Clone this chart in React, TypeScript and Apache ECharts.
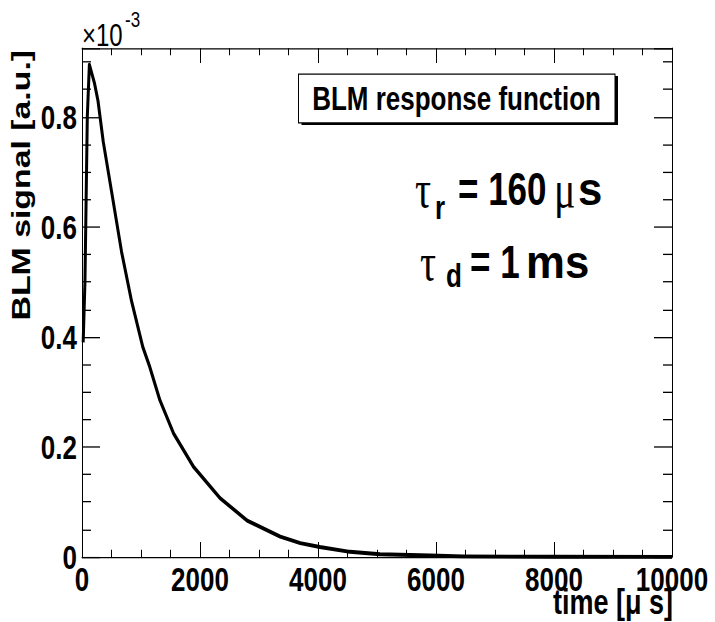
import React, { useEffect, useRef } from "react";
import * as echarts from "echarts";

// ---- data (time in microseconds, signal in units of 1e-3 a.u.) ----
const TIME_US = [20, 50, 70, 90, 125, 210, 270, 360, 500, 670, 840, 1030, 1150, 1320, 1550, 1890, 2340, 2800, 3360, 3700, 4030, 4490, 5050, 5900, 6460, 8000, 10000];
const SIGNAL = [0.39, 0.5, 0.65, 0.8, 0.895, 0.862, 0.83, 0.755, 0.665, 0.555, 0.465, 0.382, 0.345, 0.285, 0.225, 0.164, 0.107, 0.066, 0.037, 0.025, 0.018, 0.01, 0.005, 0.0025, 0.001, 0.0003, 0.0001];

const X_MIN = 0;
const X_MAX = 10000;
const X_STEP = 2000;
const Y_MIN = 0;
const Y_MAX = 0.925;
const Y_STEP = 0.2;
const Y_EXPONENT = "-3";

const X_TITLE = "time [\u03bc s]";
const Y_TITLE = "BLM signal [a.u.]";
const BOX_TITLE = "BLM response function";
const TAU = "\u03c4";
const TAU_R = { sub: "r", eq: "= 160", unit: "\u03bc", unitTail: "s" };
const TAU_D = { sub: "d", eq: "= 1", unit: "ms" };

// the reference picture is vertically stretched; draw at this height and scale
const W = 715;
const H_DRAW = 478;
const STRETCH = 622 / H_DRAW;

const SANS = "'Liberation Sans', Arial, Helvetica, sans-serif";
const SERIF = "'Liberation Serif', 'Times New Roman', serif";

export default function App() {
  const ref = useRef<HTMLDivElement>(null);
  useEffect(() => {
    const chart = echarts.init(ref.current!, null, { renderer: "svg" });
    const line = { color: "#000", width: 1 };
    const labelFont = { fontFamily: SANS, fontWeight: "bold" as const, fontSize: 26, color: "#000" };
    const xBase = {
      type: "value" as const,
      min: X_MIN,
      max: X_MAX,
      interval: X_STEP,
      axisLine: { show: true, onZero: false, lineStyle: line },
      axisTick: { show: true, inside: true, length: 11.5, lineStyle: line },
      minorTick: { show: true, splitNumber: 4, length: 5.5, lineStyle: line },
      splitLine: { show: false },
      minorSplitLine: { show: false },
    };
    const yBase = {
      type: "value" as const,
      min: Y_MIN,
      max: Y_MAX,
      interval: Y_STEP,
      axisLine: { show: true, onZero: false, lineStyle: line },
      axisTick: { show: true, inside: true, length: 18, lineStyle: line },
      minorTick: { show: true, splitNumber: 4, length: 9, lineStyle: line },
      splitLine: { show: false },
      minorSplitLine: { show: false },
    };
    const txt = (x: number, y: number, text: string, font: string, align: string, extra: any = {}) => ({
      type: "text",
      x,
      y,
      ...extra,
      style: {
        text,
        font,
        fill: "#000",
        textAlign: align,
        align,
        textVerticalAlign: "middle",
        verticalAlign: "middle",
      },
    });
    chart.setOption({
      animation: false,
      backgroundColor: "#fff",
      grid: { left: 82, right: 43, top: 37, bottom: 50, containLabel: false, show: false },
      xAxis: [
        {
          ...xBase,
          position: "bottom",
          axisLabel: { show: true, margin: 4, ...labelFont, formatter: (v: number) => String(v) },
        },
        { ...xBase, position: "top", axisLabel: { show: false } },
      ],
      yAxis: [
        {
          ...yBase,
          position: "left",
          axisLabel: {
            show: true,
            margin: 5,
            showMaxLabel: false,
            ...labelFont,
            formatter: (v: number) => String(+v.toFixed(1)),
          },
        },
        { ...yBase, position: "right", axisLabel: { show: false } },
      ],
      series: [
        {
          type: "line",
          xAxisIndex: 0,
          yAxisIndex: 0,
          data: TIME_US.map((t, i) => [t, SIGNAL[i]]),
          symbol: "none",
          showSymbol: false,
          lineStyle: { color: "#000", width: 3, join: "round" },
          clip: false,
          z: 5,
        },
      ],
      graphic: [
        // exponent of the y axis
        txt(82, 27, "\u00d710", `normal 24px ${SANS}`, "left"),
        txt(125, 15, Y_EXPONENT, `normal 17px ${SANS}`, "left"),
        // axis titles
        txt(21, 38.4, Y_TITLE, `bold 26px ${SANS}`, "right", { rotation: Math.PI / 2 }),
        txt(673, 462.8, X_TITLE, `bold 27px ${SANS}`, "right"),
        // legend box with shadow
        { type: "rect", shape: { x: 301.5, y: 58.5, width: 316.5, height: 37.5 }, style: { fill: "#000" }, z: 10 },
        {
          type: "rect",
          shape: { x: 298.5, y: 57, width: 316.5, height: 37.5 },
          style: { fill: "#fff", stroke: "#000", lineWidth: 1 },
          z: 11,
        },
        { ...txt(456.5, 75.5, BOX_TITLE, `bold 26px ${SANS}`, "center"), z: 12 },
        // tau_r line
        txt(415, 146, TAU, `40px ${SERIF}`, "left"),
        txt(435, 159.4, TAU_R.sub, `bold 26px ${SANS}`, "left"),
        txt(458, 145.3, TAU_R.eq, `bold 35px ${SANS}`, "left"),
        txt(554, 146, TAU_R.unit, `40px ${SERIF}`, "left"),
        txt(578, 145.3, TAU_R.unitTail, `bold 35px ${SANS}`, "left", { scaleX: 1.25 }),
        // tau_d line
        txt(420, 202, TAU, `40px ${SERIF}`, "left"),
        txt(446, 211.3, TAU_D.sub, `bold 26px ${SANS}`, "left"),
        txt(470, 201.2, TAU_D.eq, `bold 35px ${SANS}`, "left"),
        txt(526, 201.2, TAU_D.unit, `bold 35px ${SANS}`, "left", { scaleX: 1.25 }),
      ],
    });
    return () => chart.dispose();
  }, []);
  return (
    <div
      ref={ref}
      style={{
        position: "fixed",
        left: 0,
        top: 0,
        width: W,
        height: H_DRAW,
        transform: `scaleY(${STRETCH})`,
        transformOrigin: "0 0",
        background: "#fff",
      }}
    />
  );
}
